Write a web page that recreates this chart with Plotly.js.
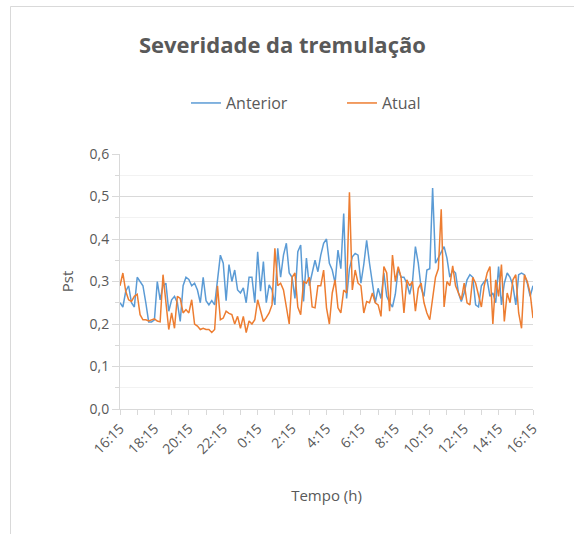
<!DOCTYPE html>
<html>
<head>
<meta charset="utf-8">
<script src="https://cdn.plot.ly/plotly-3.0.1.min.js"></script>
<style>html,body{margin:0;padding:0;background:#fff;}#chart{width:574px;height:534px;}</style>
</head>
<body>
<div id="chart"></div>
<script>
var tickLabels = ["16:15","18:15","20:15","22:15","0:15","2:15","4:15","6:15","8:15","10:15","12:15","14:15","16:15"];

var anterior = [
0.25,0.24,0.277,0.29,0.25,0.24,0.31,0.30,0.29,0.25,
0.205,0.205,0.21,0.30,0.257,0.29,0.296,0.23,0.257,0.265,
0.25,0.206,0.29,0.31,0.305,0.29,0.296,0.28,0.25,0.31,
0.255,0.245,0.255,0.245,0.30,0.362,0.343,0.255,0.34,0.30,
0.327,0.28,0.273,0.285,0.25,0.31,0.31,0.25,0.37,0.277,
0.347,0.25,0.292,0.28,0.245,0.378,0.31,0.362,0.39,0.32,
0.31,0.26,0.37,0.386,0.253,0.355,0.29,0.32,0.35,0.323,
0.362,0.39,0.40,0.343,0.327,0.296,0.374,0.33,0.46,0.26,
0.33,0.358,0.366,0.362,0.296,0.34,0.397,0.343,0.292,0.25,
0.284,0.26,0.32,0.265,0.25,0.24,0.27,0.33,0.31,0.31,
0.296,0.27,0.30,0.382,0.343,0.284,0.265,0.327,0.33,0.52,
0.343,0.355,0.37,0.382,0.355,0.31,0.327,0.32,0.273,0.253,
0.273,0.304,0.316,0.31,0.245,0.24,0.29,0.30,0.304,0.265,
0.273,0.25,0.335,0.245,0.296,0.32,0.31,0.29,0.245,0.316,
0.32,0.316,0.296,0.265,0.29
];

var atual = [
0.29,0.32,0.277,0.257,0.253,0.265,0.27,0.222,0.21,0.21,
0.207,0.21,0.212,0.207,0.205,0.316,0.245,0.187,0.226,0.19,
0.265,0.26,0.226,0.234,0.226,0.257,0.20,0.195,0.187,0.19,
0.187,0.187,0.18,0.187,0.29,0.21,0.214,0.23,0.225,0.222,
0.20,0.218,0.19,0.218,0.18,0.207,0.20,0.21,0.257,0.23,
0.206,0.215,0.226,0.245,0.378,0.29,0.296,0.28,0.238,0.20,
0.31,0.32,0.24,0.222,0.30,0.296,0.31,0.24,0.238,0.29,
0.29,0.327,0.238,0.20,0.273,0.304,0.238,0.226,0.28,0.273,
0.51,0.28,0.327,0.296,0.29,0.226,0.253,0.25,0.273,0.25,
0.245,0.218,0.335,0.32,0.23,0.362,0.30,0.335,0.31,0.226,
0.304,0.29,0.30,0.23,0.284,0.296,0.25,0.226,0.21,0.257,
0.31,0.33,0.47,0.24,0.30,0.29,0.337,0.29,0.273,0.257,
0.296,0.25,0.245,0.31,0.296,0.265,0.24,0.29,0.32,0.335,
0.20,0.304,0.265,0.34,0.206,0.273,0.25,0.304,0.316,0.226,
0.19,0.316,0.30,0.273,0.214
];

var xs = anterior.map(function(_, i){ return i; });
var tickVals = tickLabels.map(function(_, k){ return k * 12; });

var traces = [
  {x: xs, y: anterior, type: 'scatter', mode: 'lines', name: 'Anterior',
   line: {color: '#5B9BD5', width: 1.5}},
  {x: xs, y: atual, type: 'scatter', mode: 'lines', name: 'Atual',
   line: {color: '#ED7D31', width: 1.5}}
];

var layout = {
  width: 574, height: 534,
  margin: {l: 120, r: 41, t: 154, b: 125},
  paper_bgcolor: '#ffffff', plot_bgcolor: '#ffffff',
  separators: ', ',
  font: {family: 'Open Sans, sans-serif', color: '#595959'},
  title: {text: '<b>Severidade da tremulação</b>', font: {size: 22, color: '#595959', family: 'Open Sans, sans-serif'},
          xref: 'container', yref: 'container', x: 0.492, y: 0.915, xanchor: 'center', yanchor: 'middle'},
  showlegend: true,
  legend: {orientation: 'h', xref: 'container', yref: 'container', x: 0.324, y: 0.807,
           xanchor: 'left', yanchor: 'middle', font: {size: 16, color: '#595959'},
           entrywidth: 111, entrywidthmode: 'pixels'},
  xaxis: {
    range: [0, 144], tickmode: 'array', tickvals: tickVals, ticktext: tickLabels,
    tickangle: -45, tickfont: {size: 14, color: '#595959'},
    showgrid: false, zeroline: false, showline: true, linecolor: '#d9d9d9', linewidth: 1,
    ticks: 'outside', ticklen: 5, tickcolor: '#d9d9d9',
    minor: {dtick: 6, tick0: 0, ticks: 'outside', ticklen: 5, tickcolor: '#d9d9d9', showgrid: false},
    title: {text: 'Tempo (h)', font: {size: 15, color: '#595959'}, standoff: 33},
    fixedrange: true
  },
  yaxis: {
    range: [0, 0.6], dtick: 0.1, tick0: 0, tickformat: '.1f',
    tickfont: {size: 14, color: '#595959'},
    showgrid: true, gridcolor: '#d9d9d9', gridwidth: 1,
    zeroline: false, showline: true, linecolor: '#d9d9d9', linewidth: 1,
    ticks: 'outside', ticklen: 7, tickcolor: '#d9d9d9',
    minor: {dtick: 0.05, tick0: 0, ticks: 'outside', ticklen: 4, tickcolor: '#d9d9d9', showgrid: true, gridcolor: '#f2f2f2', gridwidth: 1},
    title: {text: 'Pst', font: {size: 15, color: '#595959'}, standoff: 12},
    fixedrange: true
  },
  shapes: [
    {type: 'rect', xref: 'paper', yref: 'paper',
     x0: (10.5 - 120) / 413, x1: (590 - 120) / 413,
     y0: (409 - 560) / 255, y1: (409 - 6.5) / 255,
     line: {color: '#d9d9d9', width: 1}, fillcolor: 'rgba(0,0,0,0)', layer: 'below'}
  ]
};

Plotly.newPlot('chart', traces, layout, {displayModeBar: false, staticPlot: true});
</script>
</body>
</html>
